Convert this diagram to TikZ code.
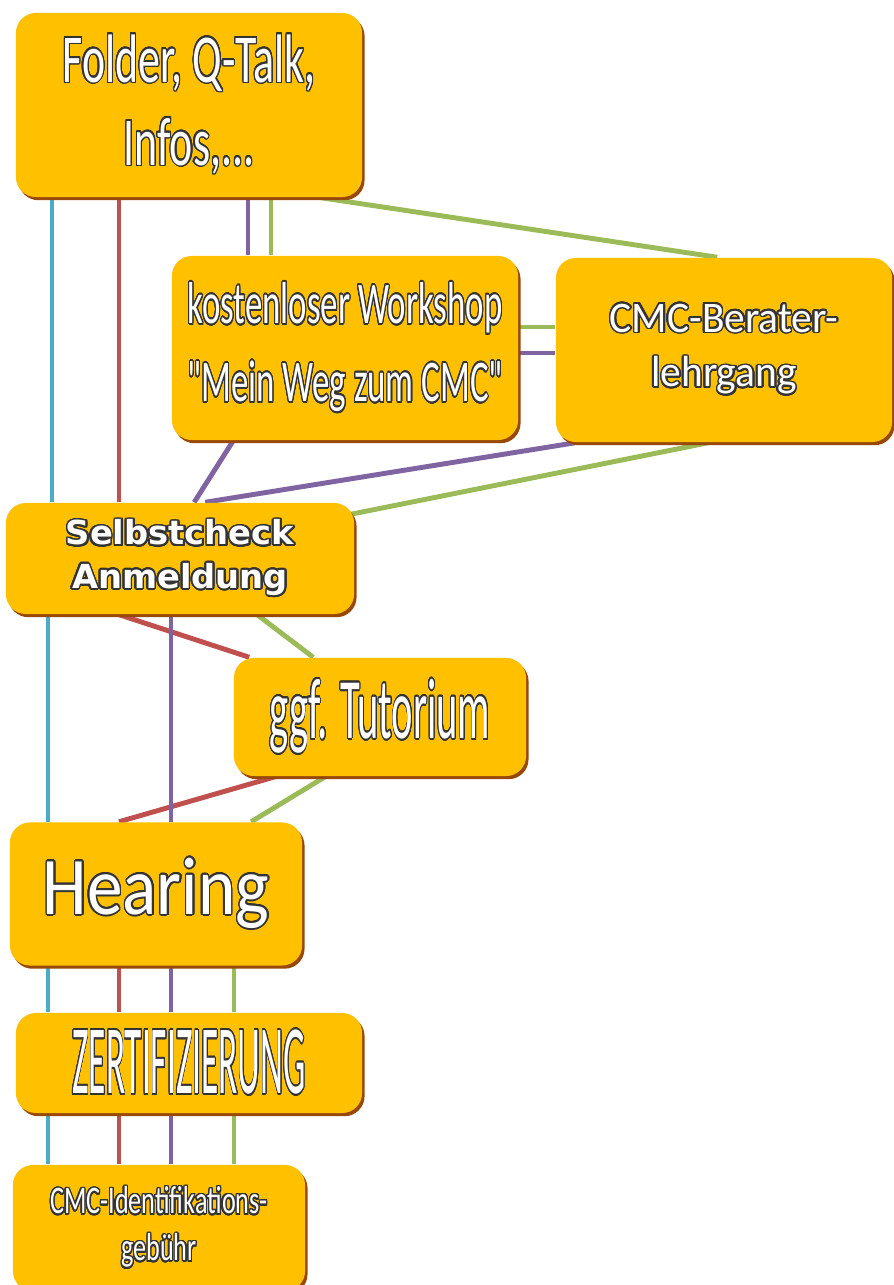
\documentclass[tikz,border=0pt]{standalone}
\usepackage{fontspec}
\setmainfont{Carlito}[Ligatures=TeXOff]
\newfontfamily\widefont{DejaVu Sans}
\usepackage{graphicx}
\usepackage[copies]{contour}
\contourlength{0.5pt}
\contournumber{24}
\usetikzlibrary{shadows}
\definecolor{boxfill}{HTML}{FFC000}
\definecolor{boxshade}{HTML}{984807}
\definecolor{txtline}{HTML}{333333}
\definecolor{lncyan}{HTML}{4BACC6}
\definecolor{lnred}{HTML}{C0504D}
\definecolor{lnpurple}{HTML}{8064A2}
\definecolor{lngreen}{HTML}{9BBB59}
\pgfdeclarelayer{bg}
\pgfsetlayers{bg,main}
\newcommand{\outl}[2]{\scalebox{#1}[1]{\contour{txtline}{#2}}}

\begin{document}
\begin{tikzpicture}[
  x=0.01cm, y=-0.01cm,
  stage/.style={fill=boxfill, rounded corners=0.2cm, text=white, align=center,
                inner sep=0pt,
                drop shadow={shadow xshift=0.7pt, shadow yshift=-0.9pt,
                             fill=boxshade, opacity=1}},
  link/.style={line width=1.4pt, draw=#1},
]
  \useasboundingbox (0,0) rectangle (893,1285);

  % ---- the stages ----------------------------------------------------------
  \node[stage, minimum width=3.46cm, minimum height=1.84cm,
        font={\fontsize{19.5}{23.6}\selectfont}] (fold) at (189,105)
    {\outl{0.64}{Folder, Q-Talk,}\\\outl{0.64}{Infos,...}};
  \node[stage, minimum width=3.46cm, minimum height=1.84cm,
        font={\fontsize{16.8}{22.2}\selectfont}] (work) at (345,348)
    {\outl{0.59}{kostenloser Workshop}\\\outl{0.59}{"Mein Weg zum CMC"}};
  \node[stage, minimum width=3.36cm, minimum height=1.84cm,
        font={\fontsize{12.4}{15.6}\selectfont}] (cmc) at (724,350)
    {\outl{0.95}{CMC-Berater-}\\\outl{0.95}{lehrgang}};
  \node[stage, minimum width=3.48cm, minimum height=1.11cm,
        font={\widefont\bfseries\fontsize{9.4}{12.4}\selectfont}] (self) at (180,558.5)
    {\outl{1.02}{Selbstcheck}\\\outl{1.02}{Anmeldung}};
  \node[stage, minimum width=2.92cm, minimum height=1.18cm,
        font={\fontsize{24.5}{28}\selectfont}] (tut) at (380,717)
    {\outl{0.47}{ggf. Tutorium}};
  \node[stage, minimum width=2.92cm, minimum height=1.43cm,
        font={\fontsize{23.3}{28}\selectfont}] (hear) at (156,894)
    {\outl{0.87}{Hearing}};
  \node[stage, minimum width=3.46cm, minimum height=1.00cm,
        font={\fontsize{27.9}{32}\selectfont}] (zert) at (189,1063)
    {\outl{0.36}{ZERTIFIZIERUNG}};
  \node[stage, minimum width=2.92cm, minimum height=1.26cm,
        font={\fontsize{11.1}{13.4}\selectfont}] (ident) at (159,1228)
    {\outl{0.67}{CMC-Identifikations-}\\\outl{0.67}{gebühr}};

  % ---- lanes of the connectors ---------------------------------------------
  \coordinate (lc) at (52,0);
  \coordinate (lc2) at (48,0);
  \coordinate (lr) at (119,0);
  \coordinate (lp) at (171,0);
  \coordinate (lp0) at (248,0);
  \coordinate (lg0) at (271,0);
  \coordinate (lg) at (234,0);
  \coordinate (hg) at (0,327);
  \coordinate (hp) at (0,353);

  \begin{pgfonlayer}{bg}
    % cyan
    \draw[link=lncyan] (fold.south -| lc) -- (self.north -| lc);
    \draw[link=lncyan] (self.south -| lc2) -- (hear.north -| lc2);
    \draw[link=lncyan] (hear.south -| lc2) -- (zert.north -| lc2);
    \draw[link=lncyan] (zert.south -| lc2) -- (ident.north -| lc2);
    % red
    \draw[link=lnred] (fold.south -| lr) -- (self.north -| lr);
    \draw[link=lnred] ([shift={(114,0)}]self.south west) -- ([shift={(16,0)}]tut.north west);
    \draw[link=lnred] ([shift={(42,0)}]tut.south west) -- (hear.north -| lr);
    \draw[link=lnred] (hear.south -| lr) -- (zert.north -| lr);
    \draw[link=lnred] (zert.south -| lr) -- (ident.north -| lr);
    % purple
    \draw[link=lnpurple] (fold.south -| lp0) -- (work.north -| lp0);
    \draw[link=lnpurple] (work.east |- hp) -- (cmc.west |- hp);
    \draw[link=lnpurple] ([shift={(62,0)}]work.south west) -- ([shift={(189,0)}]self.north west);
    \draw[link=lnpurple] ([shift={(20,0)}]cmc.south west) -- ([shift={(200,0)}]self.north west);
    \draw[link=lnpurple] (self.south -| lp) -- (hear.north -| lp);
    \draw[link=lnpurple] (hear.south -| lp) -- (zert.north -| lp);
    \draw[link=lnpurple] (zert.south -| lp) -- (ident.north -| lp);
    % green
    \draw[link=lngreen] (fold.south -| lg0) -- (work.north -| lg0);
    \draw[link=lngreen] ([shift={(306,0)}]fold.south west) -- ([shift={(162,0)}]cmc.north west);
    \draw[link=lngreen] (work.east |- hg) -- (cmc.west |- hg);
    \draw[link=lngreen] ([shift={(153,0)}]cmc.south west) -- ([shift={(-14,14)}]self.north east);
    \draw[link=lngreen] ([shift={(252,0)}]self.south west) -- ([shift={(80,0)}]tut.north west);
    \draw[link=lngreen] ([shift={(92,0)}]tut.south west) -- ([shift={(242,0)}]hear.north west);
    \draw[link=lngreen] (hear.south -| lg) -- (zert.north -| lg);
    \draw[link=lngreen] (zert.south -| lg) -- (ident.north -| lg);
  \end{pgfonlayer}
\end{tikzpicture}
\end{document}
